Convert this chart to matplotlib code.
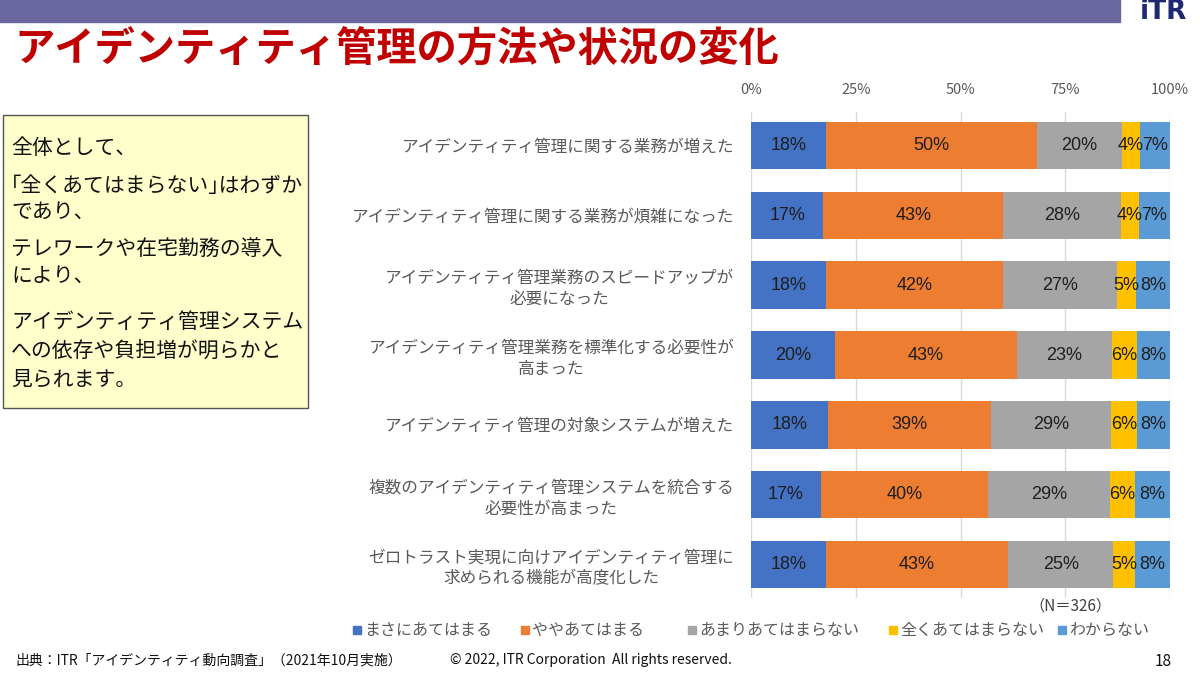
import numpy as np
import matplotlib.pyplot as plt
from matplotlib.patches import Rectangle

plt.rcParams['font.family'] = ['Noto Sans CJK JP', 'DejaVu Sans']

categories = [
    'アイデンティティ管理に関する業務が増えた',
    'アイデンティティ管理に関する業務が煩雑になった',
    'アイデンティティ管理業務のスピードアップが\n必要になった',
    'アイデンティティ管理業務を標準化する必要性が\n高まった',
    'アイデンティティ管理の対象システムが増えた',
    '複数のアイデンティティ管理システムを統合する\n必要性が高まった',
    'ゼロトラスト実現に向けアイデンティティ管理に\n求められる機能が高度化した',
]
series_names = ['まさにあてはまる', 'ややあてはまる', 'あまりあてはまらない',
                '全くあてはまらない', 'わからない']
much = [17.9, 17.3, 17.9, 20.0, 18.3, 16.6, 17.9]
somewhat = [50.3, 42.9, 42.3, 43.4, 39.0, 40.0, 43.4]
not_much = [20.3, 28.1, 27.1, 22.7, 28.6, 29.1, 25.2]
not_at_all = [4.3, 4.3, 4.6, 6.0, 6.2, 6.0, 5.2]
unknown = [7.2, 7.4, 8.1, 7.9, 7.9, 8.3, 8.3]
colors = ['#4472C4', '#ED7D31', '#A5A5A5', '#FFC000', '#5B9BD5']

summary_lines = [
    '全体として、',
    '｢全くあてはまらない｣はわずか',
    'であり、',
    'テレワークや在宅勤務の導入',
    'により、',
    'アイデンティティ管理システム',
    'への依存や負担増が明らかと',
    '見られます。',
]
summary_y = [148, 186, 212, 250, 276, 322, 351, 380]

W, H = 1200, 675
fig = plt.figure(figsize=(12, 6.75), dpi=100)


def fx(px):
    return px / W


def fy(py):
    return 1 - py / H


# header band
fig.patches.append(Rectangle((0, fy(22)), fx(1120), 22 / H, transform=fig.transFigure,
                             color='#6A67A0', zorder=0))
fig.text(fx(1163), fy(12), 'iTR', fontsize=19, fontweight='bold', color='#1F2A6E',
         ha='center', va='center', family='DejaVu Sans')
fig.text(fx(14), fy(50), 'アイデンティティ管理の方法や状況の変化', fontsize=29,
         fontweight='bold', color='#C00000', va='center')

# chart
ax = fig.add_axes([fx(751), fy(598), 419 / W, 486 / H])
data = [much, somewhat, not_much, not_at_all, unknown]
y = np.arange(len(categories))
left = np.zeros(len(categories))
for vals, c, name in zip(data, colors, series_names):
    vals = np.array(vals)
    ax.barh(y, vals, left=left, height=0.68, color=c, label=name, zorder=2)
    for yi, l, v in zip(y, left, vals):
        ax.text(l + v / 2, yi, f'{v:.0f}%', ha='center', va='center',
                fontsize=13, color='#1E1E1E', zorder=3, family='Liberation Sans')
    left += vals

ax.set_xlim(0, 100)
ax.set_ylim(6.48, -0.48)
ax.set_xticks([0, 25, 50, 75, 100])
ax.set_xticklabels(['0%', '25%', '50%', '75%', '100%'])
ax.xaxis.tick_top()
ax.tick_params(axis='x', length=0, pad=11, labelsize=10.5, labelcolor='#595959')
ax.set_yticks(y)
ax.set_yticklabels(categories, fontsize=12, color='#595959', linespacing=1.3)
for t in ax.get_yticklabels():
    t.set_multialignment('center')
ax.tick_params(axis='y', length=0, pad=12)
ax.grid(axis='x', color='#D9D9D9', lw=1, zorder=0)
for s in ax.spines.values():
    s.set_visible(False)

fig.text(fx(1070), fy(606), '（N＝326）', fontsize=11, color='#404040', ha='center', va='center')

# legend
legend_x = [357, 525, 692, 893, 1062]
for lx, c, name in zip(legend_x, colors, series_names):
    fig.patches.append(Rectangle((fx(lx - 4), fy(634)), 8 / W, 8 / H,
                                 transform=fig.transFigure, color=c))
    fig.text(fx(lx + 7), fy(630), name, fontsize=11.5, color='#595959', va='center')

# summary box
fig.patches.append(Rectangle((fx(3), fy(408)), 305 / W, 293 / H, transform=fig.transFigure,
                             facecolor='#FFFFCC', edgecolor='#555555', lw=1))
for line, ly in zip(summary_lines, summary_y):
    fig.text(fx(11), fy(ly), line, fontsize=15, color='#111111', va='center')

# footer
fig.text(fx(15), fy(660), '出典：ITR「アイデンティティ動向調査」（2021年10月実施）',
         fontsize=10, color='#111111', va='center')
fig.text(fx(450), fy(660), '© 2022, ITR Corporation  All rights reserved.',
         fontsize=10, color='#111111', va='center')
fig.text(fx(1172), fy(662), '18', fontsize=11, color='#111111', ha='right', va='center')

fig.savefig('out.png', dpi=100)
